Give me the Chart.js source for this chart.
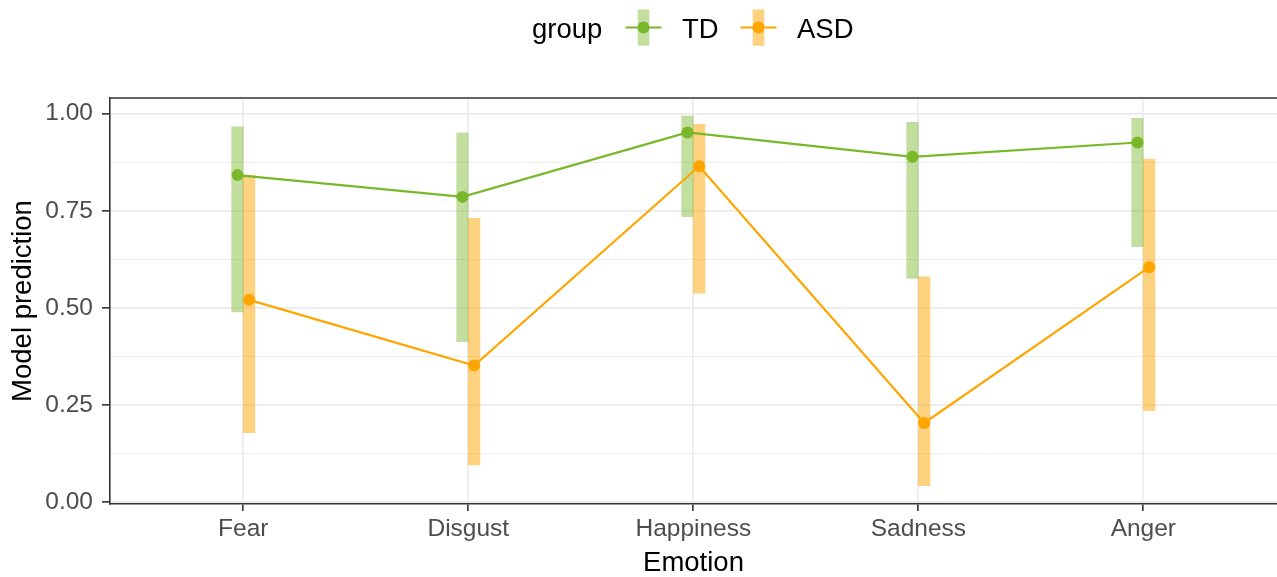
<!DOCTYPE html>
<html lang="en">
  <head>
    <meta charset="utf-8" />
    <title>Model prediction by emotion</title>
    <style>
      * {
        margin: 0;
        padding: 0;
      }
      html,
      body {
        background: #fff;
        overflow: hidden;
      }
      .chartBox {
        width: 1277px;
        height: 577px;
      }
      canvas {
        display: block;
      }
    </style>
  </head>
  <body>
    <div class="chartBox">
      <canvas id="myChart"></canvas>
    </div>

    <script src="https://cdn.jsdelivr.net/npm/chart.js"></script>

    <script>
      // data block
      const emotions = ["Fear", "Disgust", "Happiness", "Sadness", "Anger"];
      const groups = ["TD", "ASD"];
      const tdFit = [0.842, 0.786, 0.952, 0.889, 0.926];
      const tdLower = [0.49, 0.413, 0.735, 0.576, 0.658];
      const tdUpper = [0.966, 0.951, 0.994, 0.978, 0.988];
      const asdFit = [0.521, 0.352, 0.865, 0.204, 0.605];
      const asdLower = [0.179, 0.096, 0.538, 0.043, 0.236];
      const asdUpper = [0.842, 0.731, 0.973, 0.58, 0.883];
      const yMajor = [0, 0.25, 0.5, 0.75, 1];
      const yMinor = [0.125, 0.375, 0.625, 0.875];

      const green = "#78b82a";
      const orange = "#ffa500";
      const greenBar = "rgba(120, 184, 42, 0.45)";
      const orangeBar = "rgba(255, 165, 0, 0.5)";
      const dodge = 0.026;
      const fontFamily = "'Liberation Sans', Arial, sans-serif";

      const points = (vals, shift) =>
        vals.map((v, i) => ({ x: i + 1 + shift, y: v }));
      const ranges = (lo, hi, shift) =>
        lo.map((l, i) => ({ x: i + 1 + shift, y: [l, hi[i]] }));

      const data = {
        datasets: [
          {
            type: "line",
            label: groups[0],
            data: points(tdFit, -dodge),
            borderColor: green,
            backgroundColor: green,
            borderWidth: 2.2,
            pointRadius: 6,
            pointBorderWidth: 0,
            pointBackgroundColor: green,
            order: 1,
          },
          {
            type: "line",
            label: groups[1],
            data: points(asdFit, dodge),
            borderColor: orange,
            backgroundColor: orange,
            borderWidth: 2.2,
            pointRadius: 6,
            pointBorderWidth: 0,
            pointBackgroundColor: orange,
            order: 1,
          },
          {
            type: "bar",
            label: groups[0] + " interval",
            data: ranges(tdLower, tdUpper, -dodge),
            backgroundColor: greenBar,
            borderWidth: 0,
            barThickness: 11.6,
            grouped: false,
            order: 2,
          },
          {
            type: "bar",
            label: groups[1] + " interval",
            data: ranges(asdLower, asdUpper, dodge),
            backgroundColor: orangeBar,
            borderWidth: 0,
            barThickness: 11.6,
            grouped: false,
            order: 2,
          },
        ],
      };

      // top border of the panel
      const panelTop = {
        id: "panelTop",
        afterDraw(chart) {
          const {
            ctx,
            chartArea: { top, left, right },
          } = chart;
          ctx.save();
          ctx.strokeStyle = "#333333";
          ctx.lineWidth = 1.6;
          ctx.beginPath();
          ctx.moveTo(left, top);
          ctx.lineTo(right, top);
          ctx.stroke();
          ctx.restore();
        },
      };

      // ggplot-style legend at the top
      const groupLegend = {
        id: "groupLegend",
        afterDraw(chart) {
          const { ctx } = chart;
          const keys = [
            { cx: 643.5, tx: 682, line: green, bar: greenBar },
            { cx: 758.5, tx: 797, line: orange, bar: orangeBar },
          ];
          ctx.save();
          ctx.font = "27.5px " + fontFamily;
          ctx.fillStyle = "#000";
          ctx.textBaseline = "alphabetic";
          ctx.fillText("group", 532, 37.5);
          keys.forEach((k, i) => {
            ctx.fillStyle = k.bar;
            ctx.fillRect(k.cx - 5.8, 9.5, 11.6, 36.2);
            ctx.strokeStyle = k.line;
            ctx.lineWidth = 2.2;
            ctx.beginPath();
            ctx.moveTo(k.cx - 18, 27.5);
            ctx.lineTo(k.cx + 18, 27.5);
            ctx.stroke();
            ctx.fillStyle = k.line;
            ctx.beginPath();
            ctx.arc(k.cx, 27.5, 6, 0, Math.PI * 2);
            ctx.fill();
            ctx.fillStyle = "#000";
            ctx.fillText(groups[i], k.tx, 37.5);
          });
          ctx.restore();
        },
      };

      // config block
      const config = {
        type: "line",
        data: data,
        options: {
          responsive: true,
          maintainAspectRatio: false,
          animation: false,
          layout: {
            autoPadding: false,
            padding: { top: 98, left: 0, right: 0, bottom: 0 },
          },
          plugins: {
            legend: { display: false },
            tooltip: { enabled: false },
          },
          scales: {
            x: {
              type: "linear",
              min: 0.4076,
              max: 5.594,
              offset: false,
              afterBuildTicks: (s) => {
                s.ticks = emotions.map((_, i) => ({ value: i + 1 }));
              },
              afterFit: (s) => {
                s.height = 73;
              },
              ticks: {
                autoSkip: false,
                maxRotation: 0,
                padding: 4,
                color: "#4d4d4d",
                font: { family: fontFamily, size: 24.5 },
                callback: (v) => emotions[v - 1],
              },
              grid: {
                offset: false,
                color: "#ebebeb",
                lineWidth: 1.7,
                tickLength: 7,
                tickColor: "#333333",
                tickWidth: 1.6,
              },
              border: { display: true, color: "#333333", width: 1.6 },
              title: {
                display: true,
                text: "Emotion",
                color: "#000",
                font: { family: fontFamily, size: 27.5, lineHeight: 1 },
                padding: { top: 0, bottom: 0 },
              },
            },
            y: {
              min: -0.0045,
              max: 1.0405,
              beginAtZero: false,
              afterBuildTicks: (s) => {
                s.ticks = yMajor
                  .concat(yMinor)
                  .sort((a, b) => a - b)
                  .map((v) => ({ value: v }));
              },
              afterFit: (s) => {
                s.width = 110;
              },
              ticks: {
                padding: 9,
                color: "#4d4d4d",
                font: { family: fontFamily, size: 24.5 },
                callback: (v) => (yMajor.includes(v) ? v.toFixed(2) : ""),
              },
              grid: {
                color: "#ebebeb",
                lineWidth: (c) =>
                  c.tick && yMajor.includes(c.tick.value) ? 1.7 : 0.9,
                tickLength: 8,
                tickWidth: 1.6,
                tickColor: (c) =>
                  c.tick && yMajor.includes(c.tick.value)
                    ? "#333333"
                    : "rgba(0,0,0,0)",
              },
              border: { display: true, color: "#333333", width: 1.6 },
              title: {
                display: true,
                text: "Model prediction",
                color: "#000",
                font: { family: fontFamily, size: 27.5, lineHeight: 1 },
                padding: { top: 10, bottom: 0 },
              },
            },
          },
        },
        plugins: [panelTop, groupLegend],
      };

      // init render block
      const myChart = new Chart(document.getElementById("myChart"), config);
    </script>
  </body>
</html>
